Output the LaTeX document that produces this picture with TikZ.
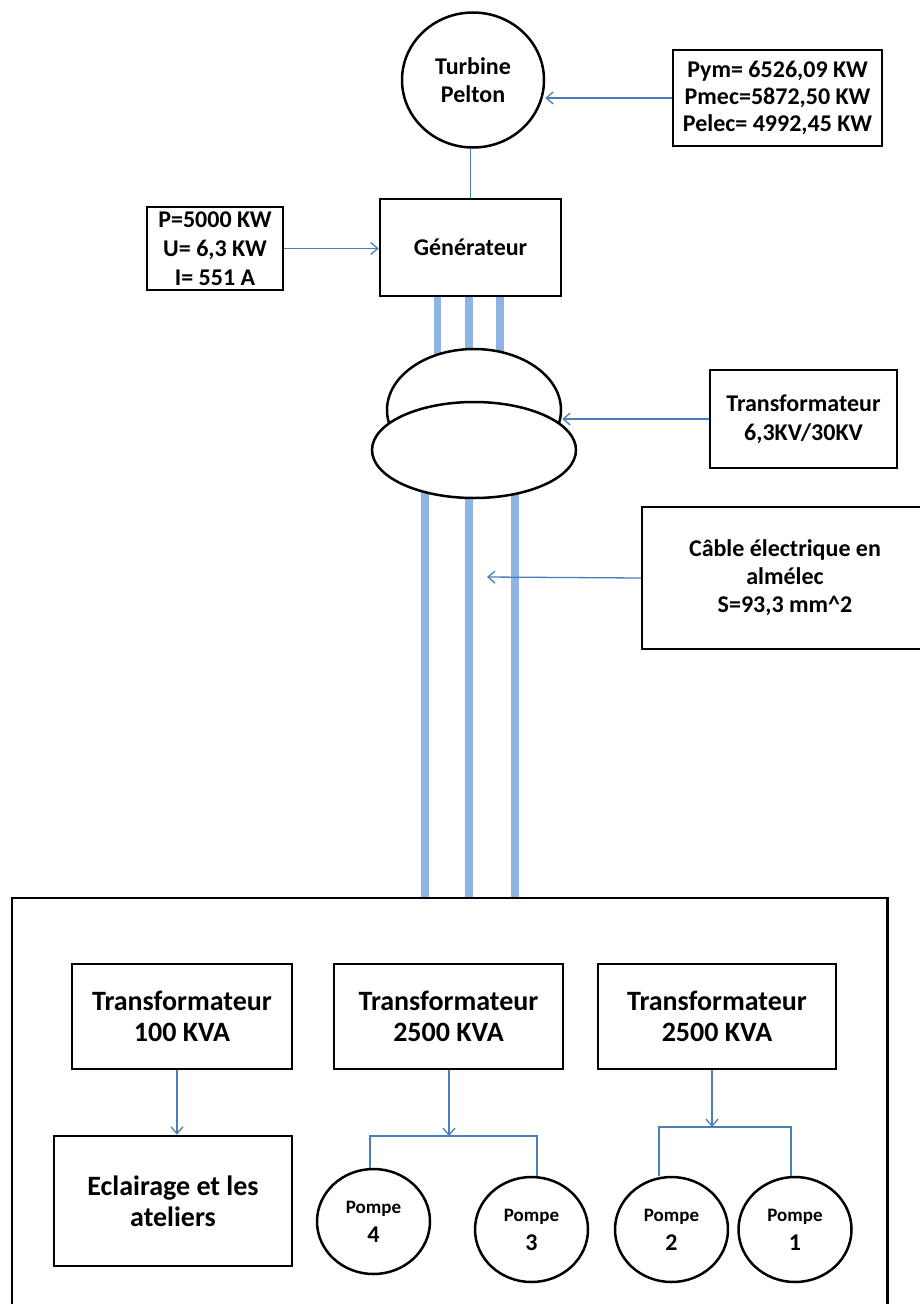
\documentclass[tikz,border=0pt]{standalone}
\usepackage{fontspec}
\setmainfont{Carlito}
\usetikzlibrary{shapes.geometric,arrows.meta}
\definecolor{conblue}{HTML}{4A7EBB}
\definecolor{barblue}{HTML}{8DB4E2}
\begin{document}
\begin{tikzpicture}[x=1pt,y=-1pt,
  outline/.style={draw=black,line width=2.5pt},
  box/.style={outline,rectangle,inner sep=0pt,align=center,font=\bfseries\fontsize{24}{28}\selectfont},
  bigbox/.style={box,font=\bfseries\fontsize{28}{31}\selectfont},
  pump/.style={outline,ellipse,inner sep=0pt,minimum width=113pt,minimum height=105pt,align=center,font=\bfseries\fontsize{19}{29}\selectfont},
  coil/.style={outline,ellipse,fill=white,inner sep=0pt},
  conn/.style={draw=conblue,line width=1.3pt},
  arr/.style={conn,-{Straight Barb[length=7pt,width=12pt]}},
  bar/.style={draw=barblue,line width=7.5pt}]
\useasboundingbox (0,0) rectangle (920,1304);

% ---- bars (drawn first, partly hidden by the transformer)
\node[box,minimum width=181pt,minimum height=97pt] (gen) at (470.5,247.5) {Générateur};
\coordinate (tb1) at (437.5,360);
\coordinate (tb2) at (469,360);
\coordinate (tb3) at (500,360);
\draw[bar] (gen.south -| tb1) -- (tb1);
\draw[bar] (gen.south -| tb2) -- (tb2);
\draw[bar] (gen.south -| tb3) -- (tb3);
\coordinate (bt1) at (425,470);
\coordinate (bt2) at (469,470);
\coordinate (bt3) at (515,470);
\coordinate (sb1) at (425,898);
\coordinate (sb2) at (469,898);
\coordinate (sb3) at (515,898);
\draw[bar] (bt1) -- (sb1);
\draw[bar] (bt2) -- (sb2);
\draw[bar] (bt3) -- (sb3);

% ---- transformer symbol
\node[coil,minimum width=174pt,minimum height=122pt] (tra) at (474,410) {};
\node[coil,minimum width=204pt,minimum height=96pt] (trb) at (474,450) {};

% ---- top part
\node[outline,ellipse,inner sep=0pt,minimum width=142pt,minimum height=135pt,align=center,
      font=\bfseries\fontsize{24}{28}\selectfont] (turb) at (473,80) {Turbine\\Pelton};
\node[box,minimum width=209pt,minimum height=96pt,font=\bfseries\fontsize{24}{27}\selectfont]
      (pym) at (777.5,98) {Pym= 6526,09 KW\\Pmec=5872,50 KW\\Pelec= 4992,45 KW};
\node[box,minimum width=136pt,minimum height=83pt,font=\bfseries\fontsize{24}{29}\selectfont]
      (pbox) at (215,248.5) {P=5000 KW\\U= 6,3 KW\\I= 551 A};
\node[box,minimum width=187pt,minimum height=98pt,font=\bfseries\fontsize{24}{29}\selectfont]
      (trlab) at (803.5,419) {Transformateur\\6,3KV/30KV};
\node[box,minimum width=286pt,minimum height=142pt]
      (cable) at (785,578) {Câble électrique en\\almélec\\S=93,3 mm\textasciicircum 2};

\draw[conn] (turb.south -| gen.north) -- (gen.north);
\draw[arr] (pym.west) -- (pym.west -| turb.east);
\draw[arr] (pbox.east) -- (pbox.east -| gen.west);
\draw[arr] (trlab.west) -- (trlab.west -| tra.east);
\coordinate (ctip) at (487,577);
\draw[arr] (cable.west) -- (ctip);

% ---- site enclosure
\draw[outline] (12,1307) -- (12,898) -- (887.5,898) -- (887.5,1307);

% ---- bottom part
\node[bigbox,minimum width=220pt,minimum height=105pt] (t1) at (182,1016.5) {Transformateur\\100 KVA};
\node[bigbox,minimum width=229pt,minimum height=105pt] (t2) at (448.5,1016.5) {Transformateur\\2500 KVA};
\node[bigbox,minimum width=238pt,minimum height=105pt] (t3) at (717,1016.5) {Transformateur\\2500 KVA};
\node[bigbox,minimum width=238pt,minimum height=130pt] (ecl) at (173,1201) {Eclairage et les\\ateliers};

\node[pump] (p4) at (373.5,1221.5) {Pompe\\{\fontsize{24}{29}\selectfont 4}};
\node[pump] (p3) at (531.5,1229.5) {Pompe\\{\fontsize{24}{29}\selectfont 3}};
\node[pump] (p2) at (671.5,1229.5) {Pompe\\{\fontsize{24}{29}\selectfont 2}};
\node[pump] (p1) at (795,1229.5) {Pompe\\{\fontsize{24}{29}\selectfont 1}};

\coordinate (j1) at (177,1136);
\draw[arr] (t1.south -| j1) -- (ecl.north -| j1);

\coordinate (j2) at (449,1136);
\coordinate (j2l) at (370,1136);
\coordinate (j2r) at (537,1136);
\draw[arr] (t2.south -| j2) -- (j2);
\draw[conn] (j2l |- p4.north) -- (j2l) -- (j2r) -- (j2r |- p3.north);

\coordinate (j3) at (712,1127);
\coordinate (j3l) at (659,1127);
\coordinate (j3r) at (791,1127);
\draw[arr] (t3.south -| j3) -- (j3);
\draw[conn] (j3l |- p2.north) -- (j3l) -- (j3r) -- (j3r |- p1.north);
\end{tikzpicture}
\end{document}
